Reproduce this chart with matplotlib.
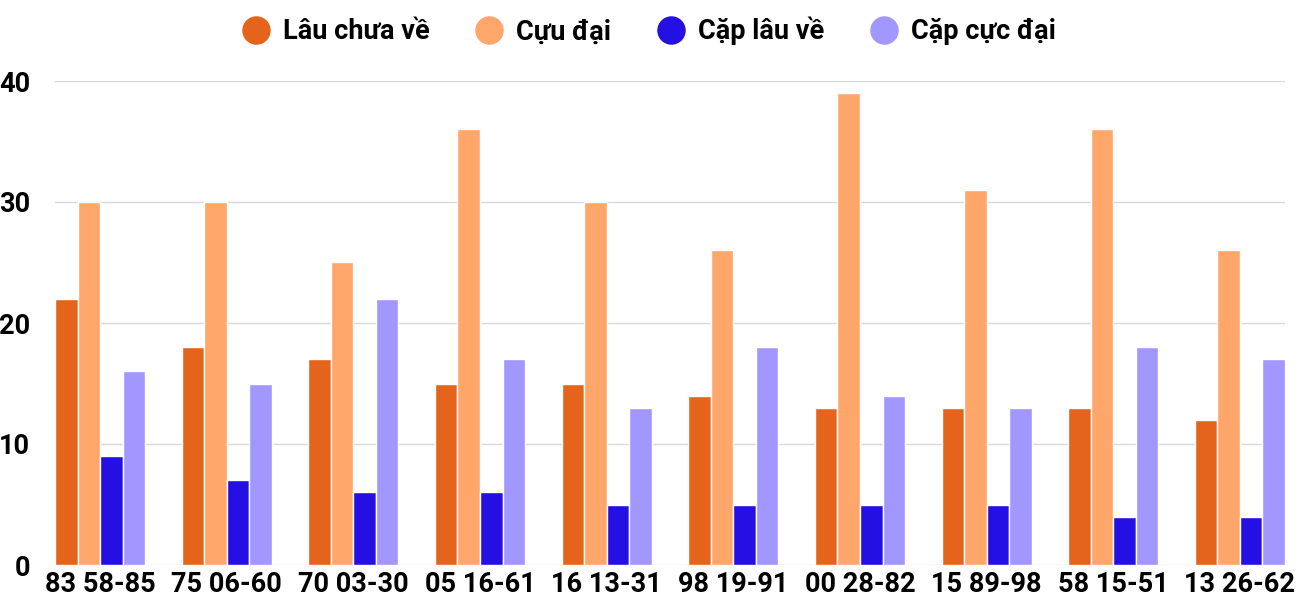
import numpy as np
import matplotlib
matplotlib.use("Agg")
import matplotlib.pyplot as plt
from matplotlib.lines import Line2D

# dados
categorias = ["83 58-85", "75 06-60", "70 03-30", "05 16-61", "16 13-31",
              "98 19-91", "00 28-82", "15 89-98", "58 15-51", "13 26-62"]
lau_chua_ve = [22, 18, 17, 15, 15, 14, 13, 13, 13, 12]
cuu_dai = [30, 30, 25, 36, 30, 26, 39, 31, 36, 26]
cap_lau_ve = [9, 7, 6, 6, 5, 5, 5, 5, 4, 4]
cap_cuc_dai = [16, 15, 22, 17, 13, 18, 14, 13, 18, 17]

nomes = ["Lâu chưa về", "Cựu đại", "Cặp lâu về", "Cặp cực đại"]
cores = ["#E3641A", "#FFA66B", "#2410E2", "#A197FE"]
series = [lau_chua_ve, cuu_dai, cap_lau_ve, cap_cuc_dai]

plt.rcParams["font.family"] = ["Roboto", "DejaVu Sans"]
plt.rcParams["font.weight"] = "bold"

fig = plt.figure(figsize=(13, 6), dpi=100)
ax = fig.add_axes([55 / 1300, 35 / 600, 1230 / 1300, 484 / 600])

x = np.arange(len(categorias))
w = 0.178
for i, (valores, cor) in enumerate(zip(series, cores)):
    ax.bar(x + (i - 1.5) * w, valores, width=w, color=cor,
           edgecolor="white", linewidth=1, zorder=3)

ax.set_xlim(-2 * w, len(categorias) - 1 + 2 * w)
ax.set_ylim(0, 40)
ax.set_yticks([0, 10, 20, 30, 40])
ax.set_xticks(x)
ax.set_xticklabels(categorias, fontsize=19.5, fontweight="bold")
ax.tick_params(axis="y", labelsize=19.5, length=0, pad=18)
ax.tick_params(axis="x", length=0, pad=4)
for lbl in ax.get_yticklabels():
    lbl.set_fontweight("bold")

ax.grid(axis="y", color="#D9D9D9", linewidth=1, zorder=0)
ax.set_axisbelow(True)
for s in ax.spines.values():
    s.set_visible(False)

handles = [Line2D([], [], marker="o", linestyle="", markersize=19.5,
                  markerfacecolor=c, markeredgecolor=c) for c in cores]
fig.legend(handles, nomes, loc="center", bbox_to_anchor=(0.497, 0.948),
           ncol=4, frameon=False, prop={"size": 19.5, "weight": "bold"},
           handlelength=1.4, handletextpad=0.3, columnspacing=1.5)

fig.savefig("out.png", dpi=100)
